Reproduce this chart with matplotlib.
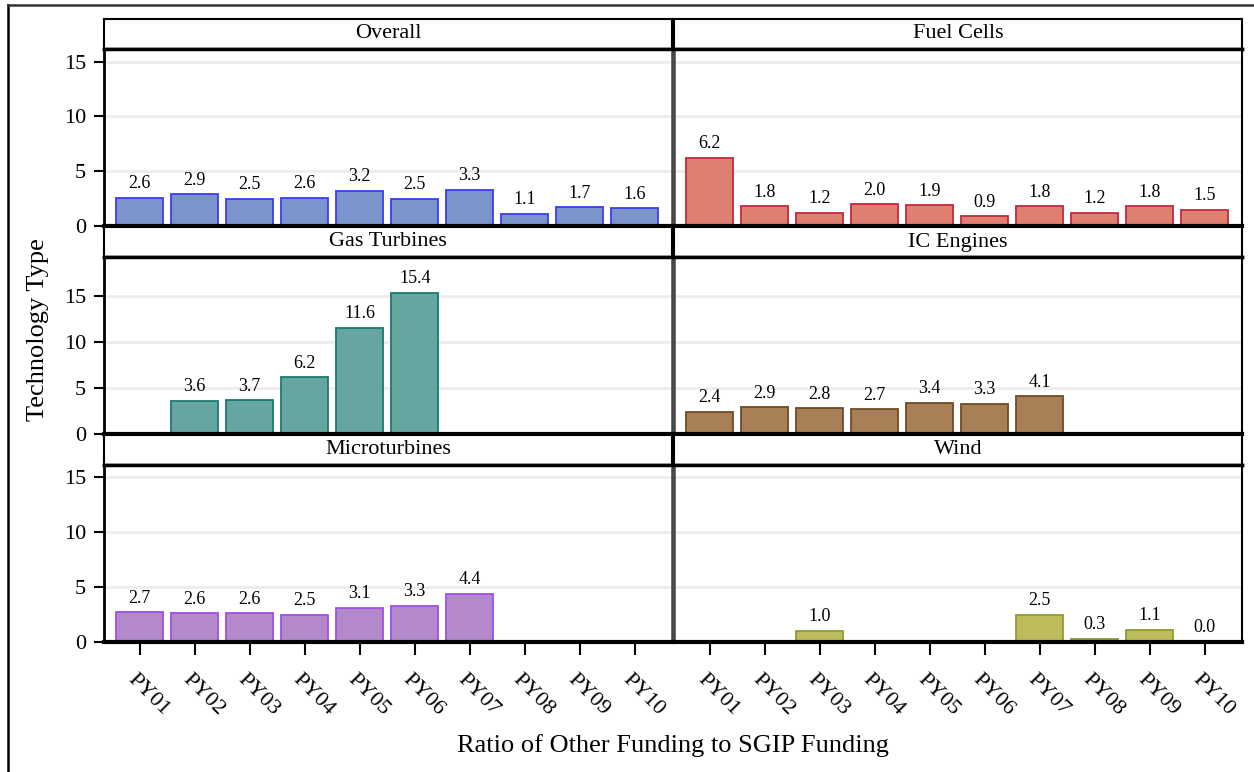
import numpy as np
import matplotlib
matplotlib.use('Agg')
import matplotlib.pyplot as plt
from matplotlib.lines import Line2D
from matplotlib.transforms import ScaledTranslation

plt.rcParams['font.family'] = ['Liberation Serif', 'DejaVu Serif']

nan = np.nan
years = ['PY01', 'PY02', 'PY03', 'PY04', 'PY05', 'PY06', 'PY07', 'PY08', 'PY09', 'PY10']
overall = [2.6, 2.9, 2.5, 2.6, 3.2, 2.5, 3.3, 1.1, 1.7, 1.6]
fuel_cells = [6.2, 1.8, 1.2, 2.0, 1.9, 0.9, 1.8, 1.2, 1.8, 1.5]
gas_turbines = [nan, 3.6, 3.7, 6.2, 11.6, 15.4, nan, nan, nan, nan]
ic_engines = [2.4, 2.9, 2.8, 2.7, 3.4, 3.3, 4.1, nan, nan, nan]
microturbines = [2.7, 2.6, 2.6, 2.5, 3.1, 3.3, 4.4, nan, nan, nan]
wind = [nan, nan, 1.0, nan, nan, nan, 2.5, 0.3, 1.1, 0.0]

panel_titles = ['Overall', 'Fuel Cells', 'Gas Turbines', 'IC Engines', 'Microturbines', 'Wind']
panel_values = [overall, fuel_cells, gas_turbines, ic_engines, microturbines, wind]
fills = ['#7b95cc', '#df7f6f', '#66a6a0', '#a97f58', '#b389cb', '#bcbc5c']
edges = ['#3c3cf0', '#c4283f', '#1a7a6e', '#6e4c22', '#a04fe6', '#8f9e2c']
row_ylims = [16.15, 19.3, 16.1]
yticks = [0, 5, 10, 15]

W, H = 1254, 772
fig = plt.figure(figsize=(W / 100, H / 100), dpi=100)


def box(x0, y0, x1, y1):
    return [x0 / W, 1 - y1 / H, (x1 - x0) / W, (y1 - y0) / H]


cols = [(104, 672), (674, 1242)]
rows = [(19, 49, 226), (227, 257, 434), (435, 465, 642)]
xpos = np.arange(len(years))

for i, (title, vals) in enumerate(zip(panel_titles, panel_values)):
    r, c = divmod(i, 2)
    x0, x1 = cols[c]
    hy0, hy1, py1 = rows[r]
    # header strip
    hax = fig.add_axes(box(x0, hy0, x1, hy1))
    hax.set_xticks([])
    hax.set_yticks([])
    for s in hax.spines.values():
        s.set_linewidth(1.5)
        s.set_color('black')
    hax.spines['bottom'].set_linewidth(2.5)
    hax.text(0.5, 0.5, title, ha='center', va='center', fontsize=16,
             transform=hax.transAxes)

    ax = fig.add_axes(box(x0, hy1, x1, py1))
    ax.set_xlim(-0.65, 9.68)
    ax.set_ylim(0, row_ylims[r])
    ax.set_axisbelow(True)
    for yv in yticks[1:]:
        ax.axhline(yv, color='#ebebeb', lw=1.8, zorder=0)
    v = np.array(vals, dtype=float)
    m = ~np.isnan(v)
    ax.bar(xpos[m], v[m], width=0.86, color=fills[i], edgecolor=edges[i],
           linewidth=1.3, zorder=2)
    for xx, vv in zip(xpos[m], v[m]):
        ax.annotate(f'{vv:.1f}', (xx, vv), xytext=(0, 4), textcoords='offset points',
                    ha='center', va='bottom', fontsize=13, zorder=3)

    for s in ax.spines.values():
        s.set_color('black')
        s.set_linewidth(1.5)
    ax.spines['top'].set_linewidth(2.5)
    ax.spines['bottom'].set_linewidth(3)
    if c == 0:
        ax.spines['left'].set_linewidth(2)
        ax.spines['right'].set_color('#444444')
        ax.spines['right'].set_linewidth(1.8)
        ax.set_yticks(yticks)
        ax.tick_params(axis='y', length=7, width=1.5, pad=6, labelsize=16)
    else:
        ax.spines['left'].set_color('#444444')
        ax.spines['left'].set_linewidth(1.8)
        ax.set_yticks(yticks)
        ax.tick_params(axis='y', length=0, labelleft=False)

    if r == 2:
        ax.set_xticks(xpos, years, rotation=-45, ha='left', va='center',
                      rotation_mode='anchor')
        ax.tick_params(axis='x', length=9, width=1.5, pad=16, labelsize=16)
        off = ScaledTranslation(-9 / 100, 0, fig.dpi_scale_trans)
        for lab in ax.get_xticklabels():
            lab.set_transform(lab.get_transform() + off)
    else:
        ax.set_xticks([])

fig.text(38 / W, 1 - 330 / H, 'Technology Type', rotation=90, ha='center',
         va='center', fontsize=19)
fig.text(673 / W, 1 - 746 / H, 'Ratio of Other Funding to SGIP Funding',
         ha='center', va='center', fontsize=19)

# outer frame
fig.add_artist(Line2D([8 / W, 8 / W], [0, 1 - 5 / H], color='black', lw=1.8,
                      transform=fig.transFigure))
fig.add_artist(Line2D([8 / W, 1], [1 - 5 / H, 1 - 5 / H], color='#333333', lw=1.8,
                      transform=fig.transFigure))

fig.savefig('out.png', dpi=100)
